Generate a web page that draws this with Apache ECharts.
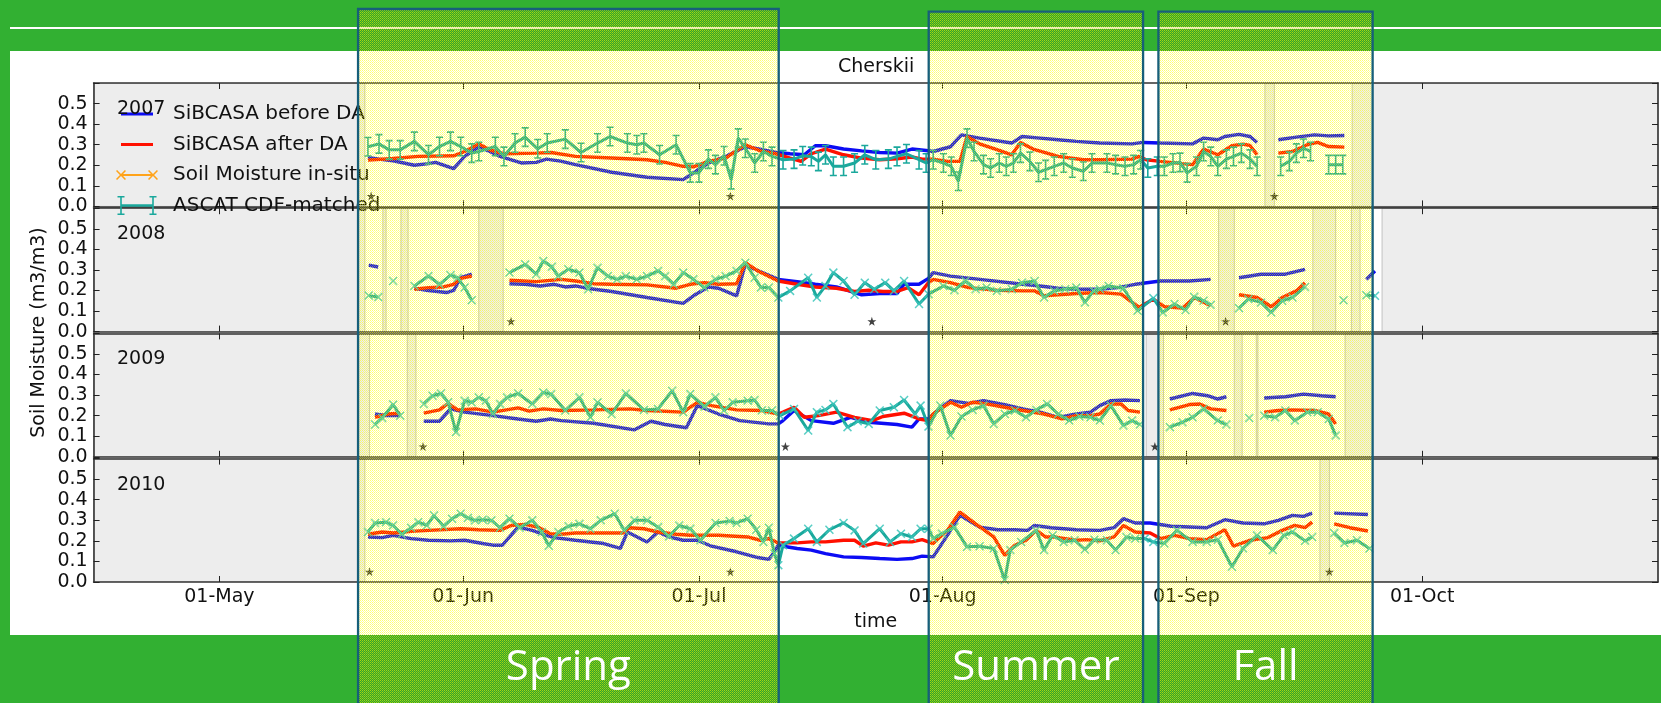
<!DOCTYPE html>
<html><head><meta charset="utf-8">
<script src="https://cdn.jsdelivr.net/npm/echarts@6/dist/echarts.min.js"></script>
<style>html,body{margin:0;padding:0;background:#32b032;overflow:hidden}#c{width:1661px;height:703px}</style>
</head><body><div id="c"></div>
<script>
// ---------------- DATA (x = days since 15-Apr) ----------------
const years = ['2007', '2008', '2009', '2010'];
const monthTicks = [16, 47, 77, 108, 139, 169];
const monthLabels = ['01-May', '01-Jun', '01-Jul', '01-Aug', '01-Sep', '01-Oct'];
const X_MIN = 0, X_MAX = 199;
const Y_MAX = 0.6;
const seriesNames = ['SiBCASA before DA', 'SiBCASA after DA', 'Soil Moisture in-situ', 'ASCAT CDF-matched'];
const yTitle = 'Soil Moisture (m3/m3)';
const chartTitle = 'Cherskii';
const xTitle = 'time';

const blue2007 = [[34.9,.238],[36.3,.23],[38.1,.222],[40.8,.20],[42.6,.208],[43.5,.214],[45.8,.184],[47.2,.243],[49,.29],[50.4,.267],[51.7,.243],[54.5,.211],[56.3,.214],[57.6,.23],[59.4,.22],[61.3,.203],[65.9,.166],[70.4,.142],[75,.13],[76.3,.163],[78.2,.211],[80.4,.243],[82.9,.29],[84.1,.283],[86.8,.262],[88.6,.256],[90.4,.251],[91.8,.295],[93.1,.295],[95.4,.279],[97.7,.27],[100,.262],[102.2,.259],[104.1,.279],[105.9,.272],[106.8,.267],[109,.29],[110.4,.348],[112.7,.332],[116.8,.308],[118.1,.34],[120.4,.332],[122.7,.324],[125,.316],[128,.308],[132.1,.304],[133.5,.311],[135.7,.308],[139.8,.304],[141.2,.332],[143,.324],[143.9,.34],[145.7,.35],[147.1,.34],[148,.311],[149,null],[150.7,.324],[153,.337],[155.3,.348],[157.1,.343],[159.1,.345]];
const red2007 = [[34.9,.225],[38.1,.233],[41.3,.243],[45.8,.246],[47.2,.267],[49,.304],[50.4,.275],[52.2,.256],[56.3,.259],[58.2,.262],[61.3,.243],[65.9,.235],[70.4,.227],[72.7,.214],[75,.195],[76.3,.192],[78.2,.219],[80.4,.235],[82.9,.30],[85,.267],[86.8,.256],[88.6,.235],[90,.219],[91.3,.256],[93.1,.279],[95.4,.251],[97.7,.235],[100,.227],[102.2,.232],[104.1,.24],[105.4,.23],[106.8,.23],[108.6,.219],[110.2,.219],[111.1,.34],[112.7,.304],[115,.275],[116.8,.251],[117.9,.311],[119.5,.279],[122.7,.243],[125.9,.227],[128,.227],[132.1,.23],[133,.243],[133.9,.227],[135.7,.219],[138.5,.208],[139.8,.203],[141.2,.279],[143,.251],[144.8,.295],[146.2,.303],[147.1,.296],[148,.251],[149,null],[150.7,.259],[152.5,.267],[154.4,.30],[155.7,.311],[157.1,.291],[159.1,.288]];
const ascat2007 = [[34.9,.29],[36.3,.304],[37.6,.275],[39,.275],[40.8,.316],[42.6,.251],[44,.291],[45.4,.316],[46.7,.291],[48.1,.259],[49,.267],[51.1,.291],[52.2,.243],[53.6,.308],[54.9,.337],[56.5,.28],[57.7,.308],[60,.327],[62,.262],[64.1,.308],[65.7,.34],[67.9,.308],[69.1,.30],[70,.308],[72,.251],[74.1,.30],[75.9,.163],[77,.163],[78.2,.23],[79.1,.203],[80.2,.246],[81.1,.13],[82,.332],[82.9,.283],[84.1,.211],[85.2,.267],[86.3,.243],[87.7,.227],[89.1,.23],[90.2,.246],[91.3,.243],[92.2,.219],[93.1,.251],[94.1,.195],[95.4,.195],[96.8,.211],[98.1,.251],[99.5,.227],[101.1,.23],[102.2,.243],[103.4,.256],[105,.227],[105.9,.211],[106.8,.227],[108.1,.211],[109.1,.195],[110,.122],[111.1,.332],[112,.267],[113.2,.203],[114.1,.187],[115.2,.211],[116.1,.195],[117,.211],[117.9,.259],[119.1,.219],[120.2,.166],[121.1,.179],[122.2,.195],[123.4,.211],[124.5,.187],[125.9,.171],[127,.211],[128.9,.211],[130,.203],[131.2,.195],[132.3,.203],[133.2,.227],[134.1,.187],[135.3,.195],[136.2,.195],[137.3,.211],[138.2,.214],[139.1,.163],[140.3,.195],[141.2,.267],[142.1,.243],[143,.195],[144.1,.23],[145,.243],[146,.259],[147.1,.23],[148,.195],[149,null],[151,.195],[152.1,.219],[153,.259],[153.9,.283],[154.8,.267],[156,null],[157.1,.203],[158,.203],[158.9,.203]];

const blue2008 = [[35,.323],[36.2,.314],[37,null],[40.8,.211],[42.6,.20],[44.9,.19],[45.8,.20],[46.7,.262],[48.1,.279],[50,null],[52.9,.233],[54.9,.23],[56.8,.222],[58.6,.23],[60,.217],[61.3,.222],[62.7,.211],[65.9,.195],[70.4,.166],[75,.137],[76.3,.174],[78.2,.217],[79.5,.211],[81.8,.174],[82.9,.327],[84.1,.303],[87.1,.254],[89.5,.243],[91.8,.23],[94.5,.217],[96.8,.19],[97.7,.179],[100,.185],[102.2,.185],[103.1,.23],[105,.23],[106.2,.259],[106.8,.287],[109,.27],[113.6,.25],[118.2,.23],[120.4,.222],[122.7,.211],[125,.206],[128,.206],[130.3,.214],[132.5,.23],[135.7,.246],[139.4,.246],[142.1,.254],[143.5,null],[145.7,.262],[148.5,.279],[151.6,.279],[154.1,.303],[155,null],[161.9,.254],[163,.295]];
const red2008 = [[40.8,.206],[42.6,.214],[44.5,.217],[45.8,.23],[46.7,.259],[48.1,.27],[50,null],[52.9,.25],[56.3,.243],[59.5,.254],[61.3,.246],[63.6,.233],[65.9,.23],[70.4,.227],[74.1,.211],[75.9,.23],[77.7,.238],[79.5,.23],[81.8,.233],[82.9,.335],[84.5,.295],[87.1,.246],[89.5,.23],[91.8,.217],[94.5,.211],[96.8,.195],[98.6,.201],[100.4,.195],[102.2,.195],[103.6,.214],[105,.179],[106.2,.238],[106.8,.254],[109,.238],[111.3,.214],[114.9,.201],[118.2,.198],[119.7,.198],[120.9,.174],[122.7,.179],[125,.185],[128,.19],[130.7,.182],[133,.118],[134.8,.158],[136.2,.121],[138.5,.114],[140,.166],[142.1,.126],[143.5,null],[145.7,.179],[148,.166],[149.8,.121],[151.2,.166],[153,.198],[154.1,.238]];
const ascat2008 = [[35,.175],[36.2,.168],[37,null],[38.1,.246],[39,null],[40.8,.222],[42.6,.27],[44,.23],[45.4,.275],[46.3,.262],[47.2,.214],[48.1,.153],[50,null],[52.9,.287],[54.9,.327],[56.3,.279],[57.2,.343],[58.3,.315],[59.1,.27],[60.4,.303],[61.8,.287],[62.9,.206],[64.1,.311],[65.4,.27],[66.6,.254],[67.7,.27],[69.1,.254],[70.4,.27],[71.8,.295],[72.7,.27],[73.8,.23],[75,.287],[76.3,.254],[77.7,.214],[79.1,.254],[80.4,.27],[81.8,.295],[82.9,.335],[84.1,.262],[84.9,.214],[85.9,.214],[87.1,.166],[88.6,.198],[90.9,.262],[92,.166],[93.1,.222],[94.1,.287],[95.4,.246],[96.8,.179],[98.1,.238],[99.3,.206],[100.7,.238],[101.8,.198],[103.1,.246],[105,.134],[106.2,.182],[108.1,.222],[109.5,.201],[110.9,.246],[112.2,.206],[113.6,.214],[114.9,.198],[116.8,.206],[118.1,.238],[119.7,.246],[120.9,.166],[122.2,.198],[123.6,.206],[125,.214],[126.1,.142],[127.2,.198],[128,.206],[129.1,.222],[131,.211],[132.8,.101],[134.8,.163],[136,.093],[137.5,.134],[138.9,.105],[140,.169],[141.2,.15],[142.1,.13],[143.5,null],[145.7,.114],[146.9,.158],[148.5,.142],[149.8,.093],[151.2,.15],[152.5,.166],[154.1,.217],[155,null],[159,.153],[160,null],[161.9,.177],[163,.174]];

const blue2009 = [[35.8,.208],[37.2,.20],[39,.20],[40,null],[42,.173],[44,.173],[45.4,.233],[47.2,.217],[50.8,.20],[54,.184],[56.3,.173],[58.1,.184],[59.5,.176],[63.6,.163],[68.8,.131],[70.9,.173],[72.7,.157],[75.4,.141],[76.8,.249],[79.5,.208],[82.2,.176],[85.9,.16],[87.1,.16],[87.7,.176],[89.1,.225],[91.3,.176],[94.1,.163],[96.3,.192],[98.6,.168],[102.2,.157],[104.1,.144],[105,.184],[106.2,.184],[106.8,.208],[109,.273],[111.3,.26],[113.2,.273],[115.9,.254],[118.2,.233],[120.4,.217],[122.7,.192],[125,.208],[126.8,.217],[128,.249],[129.4,.273],[131.2,.276],[133.1,.273],[134,null],[136.9,.281],[139.8,.308],[141.7,.297],[143,.281],[144.1,.292],[145,null],[148.9,.286],[151.6,.292],[153.9,.305],[156.2,.297],[158,.292]];
const red2009 = [[35.8,.192],[37.4,.208],[39,.212],[40,null],[42,.212],[44,.228],[45.1,.26],[46.3,.228],[48.6,.233],[50.8,.217],[54,.238],[55.4,.222],[57.2,.233],[59.5,.225],[63.6,.228],[68.2,.233],[70.4,.225],[75,.217],[76.8,.265],[78.6,.249],[81.8,.228],[85,.225],[87.1,.208],[87.7,.217],[89.1,.241],[90.4,.192],[92.2,.20],[94.5,.217],[96.8,.192],[99.1,.176],[100.4,.196],[103.1,.212],[105,.184],[106.2,.176],[106.8,.208],[109,.265],[110.4,.241],[111.8,.265],[113.2,.26],[115.9,.241],[118.2,.225],[120.9,.208],[123.2,.184],[125,.20],[126.8,.20],[128,.208],[129.4,.257],[130.7,.257],[131.6,.225],[133.1,.217],[134,null],[136.9,.228],[139.4,.254],[140.7,.257],[142.1,.233],[144.1,.225],[145,null],[148.9,.217],[150.7,.225],[152.5,.228],[155.3,.225],[157.1,.208],[158,.16]];
const ascat2009 = [[35.8,.157],[36.7,.189],[38.1,.254],[39,.20],[40,null],[42,.257],[43.1,.297],[44.2,.308],[45.1,.265],[46.1,.12],[47.2,.273],[48.1,.265],[49,.289],[49.9,.273],[50.8,.208],[51.7,.257],[52.6,.289],[54,.308],[55.8,.257],[57.2,.313],[58.2,.305],[60,.225],[61.8,.289],[63.2,.192],[64.1,.265],[65.9,.208],[67.7,.308],[70,.228],[71.8,.233],[73.6,.321],[75,.217],[75.9,.305],[77.7,.244],[79.1,.289],[80.2,.225],[81.3,.265],[83.2,.273],[84.1,.276],[85,.225],[86.3,.225],[87.3,.20],[89.1,.233],[90.9,.128],[92,.217],[93.1,.228],[94.1,.257],[95.9,.144],[97.2,.173],[98.6,.16],[100,.225],[101.8,.241],[103.1,.276],[104.5,.208],[105.2,.249],[106.2,.147],[107.7,.249],[109,.104],[110.4,.196],[111.8,.228],[113.2,.249],[114.5,.16],[115.9,.208],[117.2,.225],[118.6,.192],[119.9,.228],[121.3,.257],[122.7,.208],[124.1,.176],[125.4,.196],[126.8,.192],[128,.176],[129.4,.249],[131,.152],[132.1,.176],[133.1,.157],[134,null],[136.9,.144],[138.5,.168],[139.8,.192],[141.2,.233],[143,.176],[144.1,.157],[145,null],[147,.189],[148,null],[148.9,.20],[150.3,.192],[151.6,.225],[152.8,.176],[154.4,.217],[155.7,.217],[157.1,.184],[158,.104]];

const blue2010 = [[34.9,.219],[36.7,.216],[38.1,.227],[40.4,.211],[42.6,.203],[45.4,.20],[47.2,.203],[49.5,.187],[50.8,.179],[52,.179],[54,.267],[55.8,.251],[57.6,.227],[58.6,.216],[61.3,.203],[64.9,.187],[67,.163],[67.9,.243],[70.4,.195],[71.8,.243],[73.2,.219],[75,.203],[76.8,.203],[78.6,.174],[81.8,.147],[84.5,.119],[85.9,.11],[86.6,.147],[87.1,.179],[87.7,.174],[89.5,.163],[91.3,.155],[93.1,.138],[95.4,.122],[97.7,.119],[100,.114],[102.2,.11],[104.1,.114],[105.4,.126],[106.8,.122],[108.6,.227],[110.2,.324],[112.7,.267],[115,.254],[117.2,.254],[118.8,.251],[119.7,.275],[121.8,.264],[125,.254],[128,.251],[129.8,.264],[131,.308],[132.5,.287],[134.4,.287],[137.1,.271],[141.6,.264],[143.9,.303],[146.2,.287],[148.9,.283],[150.7,.30],[152.5,.324],[153.9,.319],[155,.335],[156,null],[157.8,.335],[162.1,.328]];
const red2010 = [[34.9,.232],[36.7,.243],[38.1,.238],[40.4,.246],[42.6,.251],[46.7,.259],[49,.254],[51.7,.251],[53.1,.275],[54.9,.28],[56.7,.264],[58.1,.235],[59.4,.232],[61.3,.238],[63.6,.238],[67.3,.238],[68.2,.264],[70,.259],[71.8,.243],[74.1,.232],[75.9,.227],[79.5,.227],[83.2,.219],[84.8,.203],[85.9,.211],[87.1,.19],[89.5,.19],[91.3,.195],[93.1,.195],[95.4,.203],[96.8,.203],[97.9,.174],[99.5,.19],[101.1,.179],[102.7,.195],[104.1,.195],[105.4,.206],[106.8,.187],[108.6,.251],[110.2,.34],[112.2,.283],[114.5,.219],[115.9,.13],[117.2,.179],[118.6,.203],[119.9,.251],[121.1,.219],[122.2,.219],[123.6,.211],[125,.203],[126.3,.206],[128,.20],[129.8,.219],[131,.275],[132.5,.243],[134.4,.238],[135.7,.211],[137.5,.227],[139.4,.211],[141.6,.206],[143.9,.254],[145,.174],[147.1,.203],[149.4,.216],[151.2,.251],[152.8,.275],[154.1,.264],[155,.291],[156,null],[157.8,.283],[159.8,.264],[162.1,.248]];
const ascat2010 = [[34.9,.243],[35.8,.287],[37.2,.291],[38.1,.275],[39.2,.232],[40.4,.264],[41.3,.291],[42.4,.275],[43.3,.324],[44.5,.271],[45.6,.308],[46.7,.332],[47.6,.312],[48.5,.30],[49.5,.303],[50.6,.30],[51.7,.264],[52.9,.308],[54.2,.264],[55.8,.30],[57,.243],[57.9,.176],[59.1,.243],[60.4,.271],[61.8,.283],[63.2,.259],[64.5,.30],[66.3,.332],[67.5,.251],[68.8,.30],[70.4,.30],[71.8,.267],[73.2,.222],[74.5,.275],[75.9,.259],[77.2,.203],[79.1,.287],[80.9,.296],[81.8,.287],[83.2,.308],[84.3,.254],[85.2,.195],[85.9,.264],[86.6,.138],[87.1,.082],[87.7,.179],[89.1,.211],[90.9,.259],[92,.195],[93.6,.254],[95.4,.287],[96.8,.251],[97.9,.187],[100,.259],[101.3,.195],[102.7,.235],[104.1,.219],[105.2,.259],[106.2,.259],[106.8,.211],[107.9,.235],[109.5,.267],[111.1,.171],[112.7,.174],[114.5,.163],[115.9,.01],[116.6,.155],[118,.195],[119.9,.251],[120.9,.155],[122,.227],[123.4,.195],[124.8,.203],[126.1,.158],[127.3,.206],[128.9,.203],[130,.155],[131.4,.219],[132.5,.211],[133.7,.211],[134.8,.195],[136.2,.187],[137.8,.251],[139.8,.195],[141.6,.195],[143,.206],[144.8,.074],[146.2,.163],[148,.227],[150,.155],[151.4,.227],[152.5,.243],[154.1,.20],[155,.219],[156,null],[157.8,.238],[159.1,.19],[160.7,.203],[162.3,.163]];

const insitu = [];   // no in-situ values drawn in this figure
const ASCAT_ERR = 0.045;

// periods without data (shaded)
const bands2007 = [[0,34.5],[149,150.2],[160.1,199]];
const bands2008 = [[0,34.5],[36.8,37.2],[39.1,40],[49,52.1],[143.1,145.1],[155.1,158],[160,161.1],[163.9,199]];
const bands2009 = [[0,35.1],[39.9,41],[133.9,136.1],[145.1,146.1],[147.9,148.1],[159.2,199]];
const bands2010 = [[0,34.5],[156,157.2],[162.7,199]];

// star markers
const stars2007 = [35.3, 81, 150.2];
const stars2008 = [53.1, 99, 144];
const stars2009 = [41.9, 88, 135];
const stars2010 = [35.1, 81, 157.2];
const STAR_Y = 0.05;

// season overlays (day range)
const seasonNames = ['Spring', 'Summer', 'Fall'];
const seasonFrom = [33.64, 106.23, 135.45];
const seasonTo = [87.15, 133.5, 162.7];

// ---------------- LAYOUT / STYLE ----------------
const FONT = 'DejaVu Sans';
const TXT = '#111111';
const BLUE = '#0c0cf4', RED = '#ff1000', TEAL = '#1aa89c', TEAL_X = '#3cc6bb', ORANGE = '#ffa31a';
const GL = 93.6, GW = 1564.4, GH = 123.4;
const GTOPS = [83, 208.2, 333.4, 458.6];
const BOX_TOPS = [9, 11.7, 11.7];

const blueData = [blue2007, blue2008, blue2009, blue2010];
const redData = [red2007, red2008, red2009, red2010];
const ascatData = [ascat2007, ascat2008, ascat2009, ascat2010];
const bandData = [bands2007, bands2008, bands2009, bands2010];
const starData = [stars2007, stars2008, stars2009, stars2010];

const X_SYMBOL = 'path://M0,1.2L1.2,0L5,3.8L8.8,0L10,1.2L6.2,5L10,8.8L8.8,10L5,6.2L1.2,10L0,8.8L3.8,5Z';
const STAR_SYMBOL = 'path://M50,0L61.8,35.3L99,35.3L68.9,57.1L80.4,92.7L50,70.6L19.6,92.7L31.1,57.1L1,35.3L38.2,35.3Z';

// legend icons (bbox 0..52 x 0..21)
const CORNERS = 'M0,0L0.01,0L0,0.01Z M52,21L51.99,21L52,20.99Z ';
function xShape(cx, cy, a, t) {
  const p = [[cx-a,cy-a+t],[cx-a+t,cy-a],[cx,cy-t],[cx+a-t,cy-a],[cx+a,cy-a+t],[cx+t,cy],[cx+a,cy+a-t],[cx+a-t,cy+a],[cx,cy+t],[cx-a+t,cy+a],[cx-a,cy+a-t],[cx-t,cy]];
  return 'M' + p.map(q => q[0] + ',' + q[1]).join('L') + 'Z ';
}
function errShape(cx) {
  return `M${cx-0.8},1.5L${cx+0.8},1.5L${cx+0.8},19.5L${cx-0.8},19.5Z M${cx-3.5},1L${cx+3.5},1L${cx+3.5},2.5L${cx-3.5},2.5Z M${cx-3.5},18.5L${cx+3.5},18.5L${cx+3.5},20L${cx-3.5},20Z `;
}
const ICON_LINE = 'path://' + CORNERS + 'M5,9L37,9L37,12L5,12Z';
const ICON_XLINE = 'path://' + CORNERS + 'M5,9.6L37,9.6L37,11.4L5,11.4Z ' + xShape(5, 10.5, 5, 1.1) + xShape(37, 10.5, 5, 1.1);
const ICON_ERR = 'path://' + CORNERS + 'M5,9.3L37,9.3L37,11.7L5,11.7Z ' + errShape(5) + errShape(37);

const chart = echarts.init(document.getElementById('c'), null, {renderer: 'canvas', width: 1661, height: 703});

const axisLineStyle = {color: '#333333', width: 1.6};
const tickStyle = {color: '#222222', width: 1};
const grid = GTOPS.map(t => ({left: GL, top: t, width: GW, height: GH, show: true, backgroundColor: '#ffffff', borderWidth: 0}));
const xAxis = [], yAxis = [];
GTOPS.forEach((t, i) => {
  const last = i === GTOPS.length - 1;
  xAxis.push({
    type: 'value', gridIndex: i, min: X_MIN, max: X_MAX, position: 'bottom', z: 5,
    axisLine: {show: true, onZero: false, lineStyle: axisLineStyle},
    axisTick: {show: true, inside: true, length: 6, customValues: monthTicks, lineStyle: tickStyle},
    axisLabel: {show: last, customValues: monthTicks, margin: 6, fontSize: 19, fontFamily: FONT, color: TXT,
      formatter: v => { const k = monthTicks.indexOf(Math.round(v)); return k >= 0 ? monthLabels[k] : ''; }},
    splitLine: {show: false},
    name: last ? xTitle : '', nameLocation: 'middle', nameGap: 31,
    nameTextStyle: {fontSize: 19, fontFamily: FONT, color: TXT}
  });
  xAxis.push({
    type: 'value', gridIndex: i, min: X_MIN, max: X_MAX, position: 'top', z: 5,
    axisLine: {show: true, onZero: false, lineStyle: axisLineStyle},
    axisTick: {show: true, inside: true, length: 6, customValues: monthTicks, lineStyle: tickStyle},
    axisLabel: {show: false}, splitLine: {show: false}
  });
  yAxis.push({
    type: 'value', gridIndex: i, min: 0, max: Y_MAX, interval: 0.1, position: 'left', z: 5,
    axisLine: {show: true, onZero: false, lineStyle: axisLineStyle},
    axisTick: {show: true, inside: true, length: 6, lineStyle: tickStyle},
    axisLabel: {margin: 6, fontSize: 19, fontFamily: FONT, color: TXT,
      formatter: v => v > 0.55 ? '' : v.toFixed(1)},
    splitLine: {show: false}
  });
  yAxis.push({
    type: 'value', gridIndex: i, min: 0, max: Y_MAX, interval: 0.1, position: 'right', z: 5,
    axisLine: {show: true, onZero: false, lineStyle: axisLineStyle},
    axisTick: {show: true, inside: true, length: 6, lineStyle: tickStyle},
    axisLabel: {show: false}, splitLine: {show: false}
  });
});

function bandRender(params, api) {
  const a = api.coord([api.value(0), Y_MAX]);
  const b = api.coord([api.value(1), 0]);
  return {type: 'rect', shape: {x: a[0], y: a[1], width: b[0] - a[0], height: b[1] - a[1]},
    style: {fill: '#ededed', stroke: '#c2c2c2', lineWidth: 1}};
}
function errRender(params, api) {
  const x = api.value(0), y = api.value(1);
  const t = api.coord([x, y + ASCAT_ERR]), b = api.coord([x, y - ASCAT_ERR]);
  const c = 3.5, st = {stroke: TEAL, lineWidth: 1.6};
  return {type: 'group', children: [
    {type: 'line', shape: {x1: t[0], y1: t[1], x2: b[0], y2: b[1]}, style: st},
    {type: 'line', shape: {x1: t[0] - c, y1: t[1], x2: t[0] + c, y2: t[1]}, style: st},
    {type: 'line', shape: {x1: b[0] - c, y1: b[1], x2: b[0] + c, y2: b[1]}, style: st}
  ]};
}

const series = [];
years.forEach((yr, i) => {
  const ax = {xAxisIndex: 2 * i, yAxisIndex: 2 * i};
  series.push(Object.assign({type: 'custom', name: 'gaps ' + yr, z: 1, silent: true, clip: true,
    data: bandData[i], renderItem: bandRender}, ax));
  series.push(Object.assign({type: 'line', name: seriesNames[0], data: blueData[i], showSymbol: false, z: 2,
    color: BLUE, itemStyle: {color: BLUE}, lineStyle: {color: BLUE, width: 3.4}}, ax));
  series.push(Object.assign({type: 'line', name: seriesNames[1], data: redData[i], showSymbol: false, z: 3,
    color: RED, itemStyle: {color: RED}, lineStyle: {color: RED, width: 3.4}}, ax));
  if (i === 0) {
    series.push(Object.assign({type: 'line', name: seriesNames[3], data: ascatData[i], showSymbol: false, z: 4,
      color: TEAL, itemStyle: {color: TEAL}, lineStyle: {color: TEAL, width: 3}}, ax));
    series.push(Object.assign({type: 'custom', name: seriesNames[3], z: 4, silent: true, clip: true,
      data: ascatData[i].filter(p => p[1] != null), renderItem: errRender}, ax));
  } else {
    series.push(Object.assign({type: 'line', name: seriesNames[3], data: ascatData[i], z: 4,
      showSymbol: true, showAllSymbol: true, symbol: X_SYMBOL, symbolSize: 9,
      color: TEAL, itemStyle: {color: TEAL_X, opacity: 0.85}, lineStyle: {color: TEAL, width: 3}}, ax));
  }
  series.push(Object.assign({type: 'scatter', name: 'marks ' + yr, z: 5, silent: true,
    data: starData[i].map(d => [d, STAR_Y]), symbol: STAR_SYMBOL, symbolSize: 9,
    itemStyle: {color: '#111111'}}, ax));
});
series.push({type: 'line', name: seriesNames[2], xAxisIndex: 0, yAxisIndex: 0, data: insitu,
  color: ORANGE, itemStyle: {color: ORANGE}, lineStyle: {color: ORANGE, width: 2}});

const option = {
  animation: false,
  backgroundColor: '#32b032',
  title: {text: chartTitle, left: 838, top: 58, padding: 0,
    textStyle: {fontSize: 19, fontWeight: 'normal', fontFamily: FONT, color: TXT}},
  legend: {
    orient: 'vertical', left: 111, top: 98.5, itemWidth: 52, itemHeight: 21, itemGap: 9.5,
    selectedMode: false, z: 6, itemStyle: {borderWidth: 0},
    textStyle: {fontSize: 20, fontFamily: FONT, color: TXT},
    data: [
      {name: seriesNames[0], icon: ICON_LINE},
      {name: seriesNames[1], icon: ICON_LINE},
      {name: seriesNames[2], icon: ICON_XLINE},
      {name: seriesNames[3], icon: ICON_ERR}
    ]
  },
  grid, xAxis, yAxis, series
};
chart.setOption(option);

// ---------------- slide decorations ----------------
// dithered translucent yellow fill used for the season boxes
const pc = document.createElement('canvas');
pc.width = 2; pc.height = 2;
const g = pc.getContext('2d');
g.fillStyle = 'rgba(255,255,0,0.56)'; g.fillRect(0, 0, 1, 1);
g.fillStyle = 'rgba(255,255,0,0.38)'; g.fillRect(1, 1, 1, 1);

const PANEL_TOP = 51, PANEL_BOTTOM = 635;
const graphics = [
  {type: 'rect', z: -10, silent: true, shape: {x: 10, y: 27, width: 1651, height: 2}, style: {fill: '#ffffff'}},
  {type: 'rect', z: -10, silent: true, shape: {x: 10, y: PANEL_TOP, width: 1651, height: PANEL_BOTTOM - PANEL_TOP}, style: {fill: '#ffffff'}},
  {type: 'text', z: 6, silent: true, x: 39, y: (GTOPS[0] + GTOPS[3] + GH) / 2, rotation: Math.PI / 2,
    style: {text: yTitle, align: 'center', verticalAlign: 'middle', font: '19px "DejaVu Sans"', fill: TXT}}
];
years.forEach((yr, i) => {
  graphics.push({type: 'text', z: 6, silent: true, x: 117, y: GTOPS[i] + 26,
    style: {text: yr, align: 'left', verticalAlign: 'middle', font: '19px "DejaVu Sans"', fill: TXT}});
});
seasonNames.forEach((nm, k) => {
  const x0 = chart.convertToPixel({xAxisIndex: 0}, seasonFrom[k]);
  const x1 = chart.convertToPixel({xAxisIndex: 0}, seasonTo[k]);
  const top = BOX_TOPS[k];
  // slight darkening where the box sits on the green slide background
  graphics.push({type: 'rect', z: 99, silent: true, shape: {x: x0, y: top, width: x1 - x0, height: PANEL_TOP - top},
    style: {fill: 'rgba(50,70,0,0.12)'}});
  graphics.push({type: 'rect', z: 99, silent: true, shape: {x: x0, y: PANEL_BOTTOM, width: x1 - x0, height: 720 - PANEL_BOTTOM},
    style: {fill: 'rgba(50,70,0,0.12)'}});
  graphics.push({type: 'rect', z: 100, silent: true,
    shape: {x: x0, y: top, width: x1 - x0, height: 720 - top},
    style: {fill: {image: pc, repeat: 'repeat'}, stroke: '#175f7a', lineWidth: 2.3}});
  graphics.push({type: 'text', z: 101, silent: true, x: (x0 + x1) / 2, y: 668,
    style: {text: nm, align: 'center', verticalAlign: 'middle', font: '42px "Open Sans"', fill: '#ffffff'}});
});
chart.setOption({graphic: graphics});
</script>
</body></html>
